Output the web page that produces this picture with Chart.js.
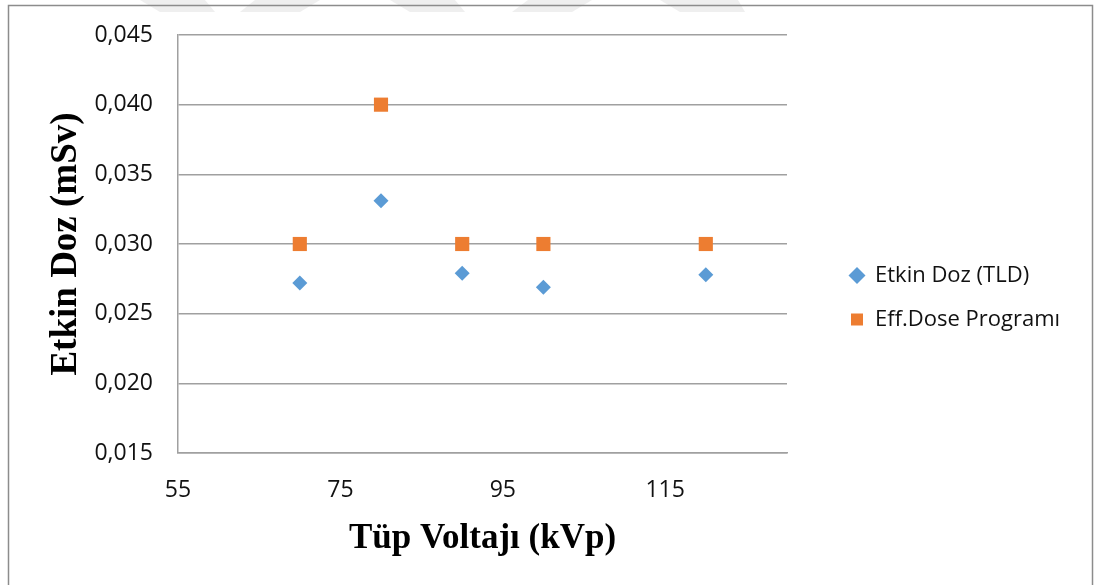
<!DOCTYPE html>
<html>
<head>
<meta charset="utf-8">
<script src="https://cdn.jsdelivr.net/npm/chart.js@4.4.0/dist/chart.umd.min.js"></script>
<style>
  html, body { margin: 0; padding: 0; background: #fff; }
  canvas { display: block; }
</style>
</head>
<body>
<canvas id="doseChart" width="1094" height="585"></canvas>
<script>
// tube voltage (kVp) for each exposure
const kvp = [70, 80, 90, 100, 120];
// effective dose measured with TLDs (mSv)
const tldDose = [0.0272, 0.0331, 0.0279, 0.0269, 0.0278];
// effective dose from the Eff.Dose software (mSv)
const programDose = [0.030, 0.040, 0.030, 0.030, 0.030];

const seriesLabels = ["Etkin Doz (TLD)", "Eff.Dose Programı"];
const xTicks = [55, 75, 95, 115];
const yTicks = [0.015, 0.020, 0.025, 0.030, 0.035, 0.040, 0.045];

const toPoints = (values) => kvp.map((x, i) => ({ x: x, y: values[i] }));

const tickFont = { family: "'Open Sans', sans-serif", size: 23 };
const titleFont = { family: "'Liberation Serif', 'Times New Roman', serif", size: 37, weight: "bold" };

// frame around the whole figure and the faint stripes along the top edge
const framePlugin = {
  id: "frame",
  beforeDraw(chart) {
    const ctx = chart.ctx;
    ctx.save();
    ctx.fillStyle = "#fff";
    ctx.fillRect(0, 0, chart.width, chart.height);

    ctx.fillStyle = "#efefef";
    const stripes = [
      [140, 205, 160, 215], [255, 320, 240, 300], [390, 455, 410, 465],
      [528, 592, 512, 572], [660, 738, 680, 745]
    ];
    stripes.forEach(([a, b, c, d]) => {
      ctx.beginPath();
      ctx.moveTo(a, 0);
      ctx.lineTo(b, 0);
      ctx.lineTo(d, 12);
      ctx.lineTo(c, 12);
      ctx.closePath();
      ctx.fill();
    });

    ctx.strokeStyle = "#8c8c8c";
    ctx.lineWidth = 1.5;
    ctx.strokeRect(8.5, 5.5, 1084, 620);
    ctx.restore();
  }
};

const chart = new Chart(document.getElementById("doseChart").getContext("2d"), {
  type: "scatter",
  data: {
    datasets: [
      {
        label: seriesLabels[0],
        data: toPoints(tldDose),
        pointStyle: "rectRot",
        pointRadius: 7.5,
        backgroundColor: "#5B9BD5",
        borderColor: "#5B9BD5",
        borderWidth: 0,
      },
      {
        label: seriesLabels[1],
        data: toPoints(programDose),
        pointStyle: "rect",
        pointRadius: 10,
        backgroundColor: "#ED7D31",
        borderColor: "#ED7D31",
        borderWidth: 0,
      },
    ],
  },
  options: {
    responsive: false,
    animation: false,
    devicePixelRatio: 1,
    layout: {
      padding: { left: 44, top: 35, right: 26, bottom: 25 },
    },
    plugins: {
      tooltip: { enabled: false },
      legend: {
        position: "right",
        labels: {
          usePointStyle: true,
          boxWidth: 14,
          boxHeight: 12,
          padding: 22,
          color: "#111",
          font: { family: "'Open Sans', sans-serif", size: 22 },
        },
      },
    },
    scales: {
      x: {
        type: "linear",
        min: 55,
        max: 130,
        afterBuildTicks: (scale) => {
          scale.ticks = xTicks.map((v) => ({ value: v }));
        },
        afterFit: (scale) => {
          scale.height = 107;
        },
        grid: { display: false, drawTicks: false },
        border: { display: true, color: "#a0a0a0", width: 1.5 },
        ticks: {
          padding: 24,
          color: "#111",
          font: tickFont,
          maxRotation: 0,
          autoSkip: false,
        },
        title: {
          display: true,
          text: "Tüp Voltajı (kVp)",
          color: "#000",
          font: { ...titleFont, size: 35 },
          padding: { top: 0, bottom: 0 },
        },
      },
      y: {
        type: "linear",
        min: 0.015,
        max: 0.045,
        afterBuildTicks: (scale) => {
          scale.ticks = yTicks.map((v) => ({ value: v }));
        },
        afterFit: (scale) => {
          scale.width = 134;
          // let the layout padding alone decide where the plot starts
          scale.paddingTop = 0;
          scale.paddingBottom = 0;
        },
        grid: { color: "#a0a0a0", lineWidth: 1.5, drawTicks: false },
        border: { display: true, color: "#a0a0a0", width: 1.5 },
        ticks: {
          padding: 25,
          color: "#111",
          font: tickFont,
          callback: (value) => value.toFixed(3).replace(".", ","),
        },
        title: {
          display: true,
          text: "Etkin Doz (mSv)",
          color: "#000",
          font: titleFont,
          padding: { top: 0, bottom: 0 },
        },
      },
      // empty right-hand axis keeping the gap between the plot and the legend
      spacer: {
        type: "linear",
        position: "right",
        afterFit: (scale) => {
          scale.width = 41;
        },
        grid: { display: false },
        border: { display: false },
        ticks: { display: false },
      },
    },
  },
  plugins: [framePlugin],
});

// the legend column gets a fixed width so the long label is never cut off
const legendWidth = 240;
const baseFit = chart.legend.fit.bind(chart.legend);
chart.legend.fit = function () {
  baseFit();
  this.width = legendWidth;
};
chart.update("none");
</script>
</body>
</html>
